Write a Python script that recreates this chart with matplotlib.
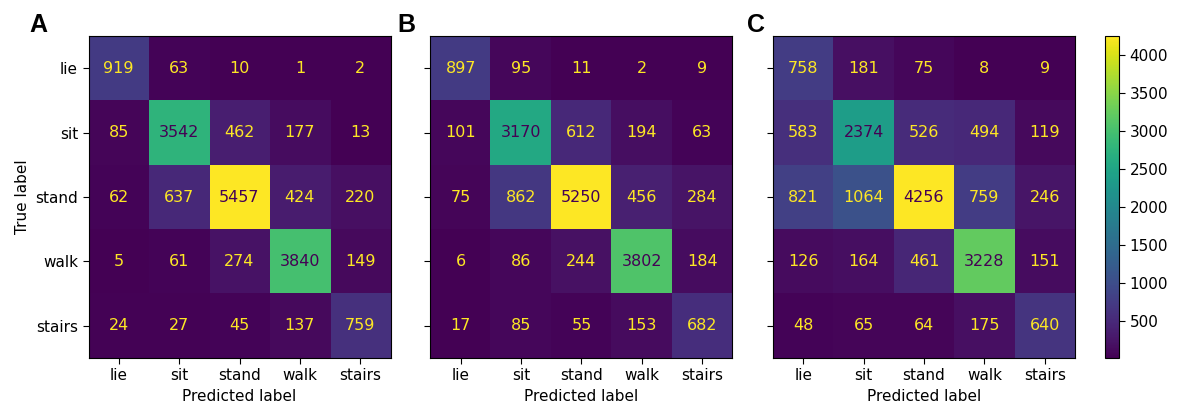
import numpy as np
import matplotlib
matplotlib.use("Agg")
import matplotlib.pyplot as plt
from matplotlib.colors import Normalize

labels = ["lie", "sit", "stand", "walk", "stairs"]
panel_names = ["A", "B", "C"]

cm_a = [
    [919, 63, 10, 1, 2],
    [85, 3542, 462, 177, 13],
    [62, 637, 5457, 424, 220],
    [5, 61, 274, 3840, 149],
    [24, 27, 45, 137, 759],
]
cm_b = [
    [897, 95, 11, 2, 9],
    [101, 3170, 612, 194, 63],
    [75, 862, 5250, 456, 284],
    [6, 86, 244, 3802, 184],
    [17, 85, 55, 153, 682],
]
cm_c = [
    [758, 181, 75, 8, 9],
    [583, 2374, 526, 494, 119],
    [821, 1064, 4256, 759, 246],
    [126, 164, 461, 3228, 151],
    [48, 65, 64, 175, 640],
]
matrices = [cm_a, cm_b, cm_c]

W, H = 1177, 408
fig = plt.figure(figsize=(W / 100, H / 100), dpi=100)
cmap = plt.get_cmap("viridis")

lefts = [88.5, 430.5, 773]
letter_x = [29, 397, 747]
ax_w = 302
top, bottom = 36, 358

im = None
for i, (cm, name) in enumerate(zip(matrices, panel_names)):
    cm = np.array(cm)
    ax = fig.add_axes([lefts[i] / W, 1 - bottom / H, ax_w / W, (bottom - top) / H])
    norm = Normalize(vmin=cm.min(), vmax=cm.max())
    im = ax.imshow(cm, cmap=cmap, norm=norm, aspect="auto", interpolation="nearest")
    thresh = (cm.max() + cm.min()) / 2.0
    for r in range(cm.shape[0]):
        for c in range(cm.shape[1]):
            color = cmap(0.0) if cm[r, c] > thresh else cmap(1.0)
            ax.text(c, r, str(cm[r, c]), ha="center", va="center",
                    color=color, fontsize=11.5)
    ax.set_xticks(range(len(labels)))
    ax.set_xticklabels(labels, fontsize=11)
    ax.set_yticks(range(len(labels)))
    if i == 0:
        ax.set_yticklabels(labels, fontsize=11)
        ax.set_ylabel("True label", fontsize=11)
    else:
        ax.set_yticklabels([])
    ax.set_xlabel("Predicted label", fontsize=11)
    ax.tick_params(length=4)
    fig.text(letter_x[i] / W, 1 - 25 / H, name,
             fontsize=18, fontweight="bold", family="Liberation Sans",
             ha="left", va="center")

cax = fig.add_axes([1105 / W, 1 - bottom / H, 14 / W, (bottom - top) / H])
cb = fig.colorbar(im, cax=cax)
cb.set_ticks([500, 1000, 1500, 2000, 2500, 3000, 3500, 4000])
cb.ax.tick_params(labelsize=11, length=4)
cb.outline.set_linewidth(0.8)

fig.savefig("out.png", dpi=100)
